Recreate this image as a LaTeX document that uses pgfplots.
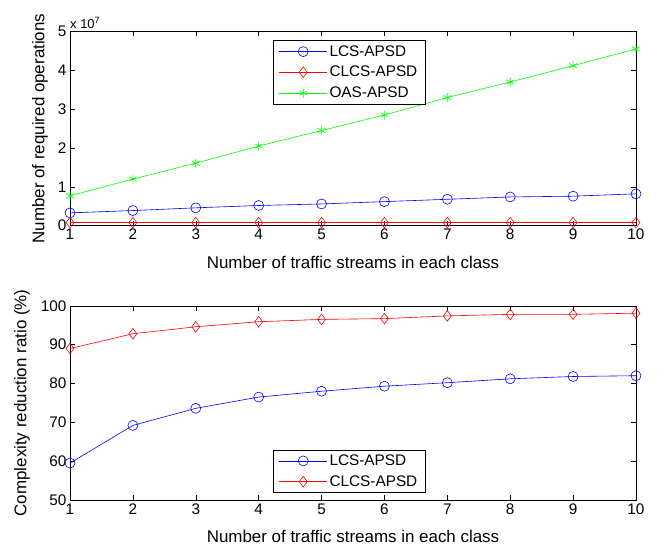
\documentclass[border=0pt]{standalone}
\usepackage{pgfplots}
\pgfplotsset{compat=1.18}
\usepackage{fontspec}
\setmainfont{Liberation Sans}
\definecolor{mblue}{rgb}{0,0,1}
\definecolor{mred}{rgb}{1,0,0}
\definecolor{mgreen}{rgb}{0,1,0}
\newcommand{\labfont}{\fontsize{17}{20}\selectfont}
\pgfplotsset{
  every axis/.append style={
    scale only axis, width=566bp, height=194.2bp,
    xmin=1, xmax=10, xtick={1,...,10},
    tick align=inside, major tick length=5bp,
    axis line style={black, line width=0.6pt},
    every tick/.style={black, line width=0.5pt},
    tick label style={font=\fontsize{15.4}{18}\selectfont},
    /pgf/number format/assume math mode=true,
    legend style={font=\fontsize{15.4}{18}\selectfont, draw=black, line width=0.6pt,
      row sep=4.5bp, inner xsep=6bp, inner ysep=3bp, cells={anchor=west}},
    legend image code/.code={\draw[mark repeat=2,mark phase=2] plot coordinates {(0bp,0bp) (24bp,0bp) (48bp,0bp)};},
    xlabel={Number of traffic streams in each class},
    every axis x label/.style={at={(axis description cs:0.5,-0.187)}, anchor=center, font=\labfont},
  },
}
\begin{document}
\begin{tikzpicture}
\path[use as bounding box] (0,0) rectangle (668bp,550bp);
\begin{axis}[
  at={(70bp,324.3bp)}, anchor=south west,
  ymin=0, ymax=5e7, ytick={0,1e7,2e7,3e7,4e7,5e7},
  scaled y ticks=base 10:-7,
  ytick scale label code/.code={x 10\textsuperscript{#1}},
  every y tick scale label/.style={at={(rel axis cs:0,1)}, anchor=south west, inner sep=0pt, yshift=3bp, font=\fontsize{13}{15}\selectfont},
  ylabel={Number of required operations},
  every axis y label/.style={at={(axis description cs:-0.053,0.5)}, rotate=90, anchor=center, font=\labfont},
  legend style={at={(0.358,0.955)}, anchor=north west},
]
\addplot[mblue, line width=0.6pt, mark=o, mark size=5bp] coordinates {
(1,0.33e7) (2,0.39e7) (3,0.46e7) (4,0.52e7) (5,0.56e7) (6,0.62e7) (7,0.68e7) (8,0.74e7) (9,0.76e7) (10,0.82e7)};
\addlegendentry{LCS-APSD}
\addplot[mred, line width=0.6pt, mark=diamond, mark size=5.3bp] coordinates {
(1,0.08e7) (2,0.08e7) (3,0.08e7) (4,0.08e7) (5,0.08e7) (6,0.08e7) (7,0.08e7) (8,0.08e7) (9,0.08e7) (10,0.08e7)};
\addlegendentry{CLCS-APSD}
\addplot[mgreen, line width=0.6pt, mark=asterisk, mark size=4.5bp] coordinates {
(1,0.77e7) (2,1.20e7) (3,1.61e7) (4,2.05e7) (5,2.45e7) (6,2.85e7) (7,3.30e7) (8,3.70e7) (9,4.12e7) (10,4.55e7)};
\addlegendentry{OAS-APSD}
\end{axis}
\begin{axis}[
  at={(70bp,50bp)}, anchor=south west,
  ymin=50, ymax=100, ytick={50,60,...,100},
  ylabel={Complexity reduction ratio (\%)},
  every axis y label/.style={at={(axis description cs:-0.085,0.5)}, rotate=90, anchor=center, font=\labfont},
  legend style={at={(0.358,0.036)}, anchor=south west},
]
\addplot[mblue, line width=0.6pt, mark=o, mark size=5bp] coordinates {
(1,59.5) (2,69.2) (3,73.6) (4,76.5) (5,78.0) (6,79.3) (7,80.2) (8,81.2) (9,81.8) (10,82.0)};
\addlegendentry{LCS-APSD}
\addplot[mred, line width=0.6pt, mark=diamond, mark size=5.3bp] coordinates {
(1,89.0) (2,92.8) (3,94.6) (4,95.9) (5,96.5) (6,96.7) (7,97.4) (8,97.8) (9,97.8) (10,98.1)};
\addlegendentry{CLCS-APSD}
\end{axis}
\end{tikzpicture}
\end{document}
